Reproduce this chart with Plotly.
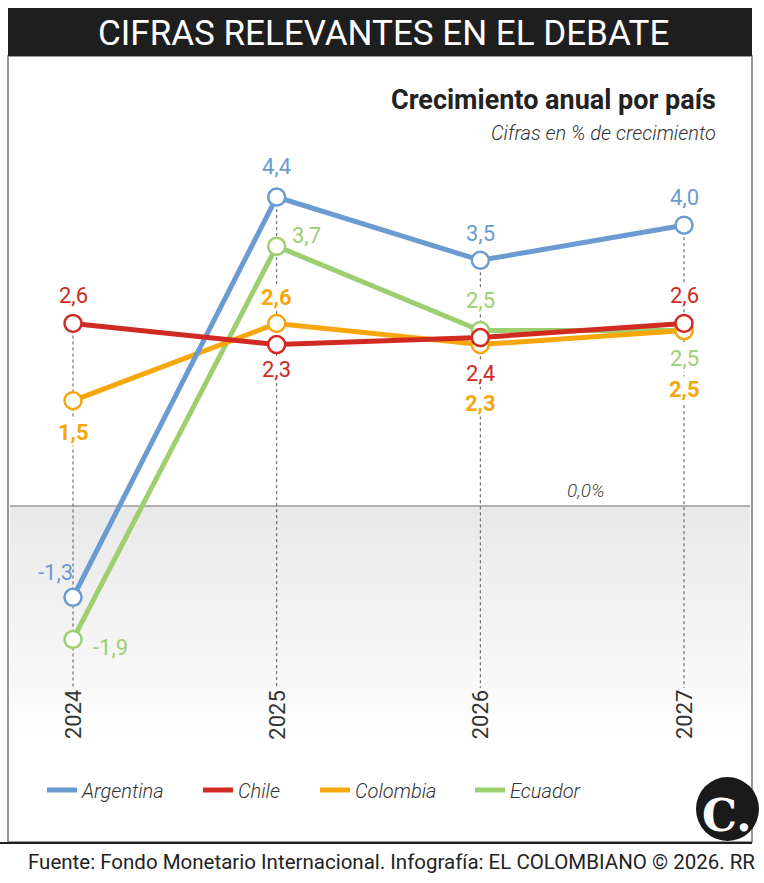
import plotly.graph_objects as go

# ---------------- data ----------------
years = [2024, 2025, 2026, 2027]
year_labels = ["2024", "2025", "2026", "2027"]
countries = ["Argentina", "Chile", "Colombia", "Ecuador"]
argentina = [-1.3, 4.4, 3.5, 4.0]
chile = [2.6, 2.3, 2.4, 2.6]
colombia = [1.5, 2.6, 2.3, 2.5]
ecuador = [-1.9, 3.7, 2.5, 2.5]

series = {"Argentina": argentina, "Chile": chile, "Colombia": colombia, "Ecuador": ecuador}

# ---------------- styles / layout ----------------
colors = {"Argentina": "#6a9bd1", "Chile": "#d12a22", "Colombia": "#f7a70c", "Ecuador": "#9dcf70"}
label_bold = {"Argentina": False, "Chile": False, "Colombia": True, "Ecuador": False}
# label offsets in pixels (dx right, dy down) relative to each point
label_offsets = {
    "Argentina": [(-18, -25), (0, -31), (0, -27), (0, -28)],
    "Chile": [(0, -28), (0, 25), (0, 36), (0, -28)],
    "Colombia": [(0, 32), (0, -26), (0, 59), (0, 59)],
    "Ecuador": [(37, 8), (30, -11), (0, -30), (0, 28)],
}
draw_order = ["Ecuador", "Colombia", "Argentina", "Chile"]
legend_px = {"Argentina": 42, "Chile": 198, "Colombia": 315, "Ecuador": 470}
legend_ids = {"Argentina": "legend", "Chile": "legend2", "Colombia": "legend3", "Ecuador": "legend4"}

W, H = 764, 883
X0PX, XSTEP = 73.0, 203.67
Y0PX, YSTEP = 506.0, 70.2
xr = [years[0] - X0PX / XSTEP, years[0] + (W - X0PX) / XSTEP]
yr = [-(H - Y0PX) / YSTEP, Y0PX / YSTEP]


def px2x(p):
    return xr[0] + p / XSTEP


def px2y(p):
    return (Y0PX - p) / YSTEP


def pxp(p):
    return p / W


def pyp(p):
    return 1 - p / H


FONT = "Roboto"
fig = go.Figure()

# gray gradient below zero
nrows = 60
y_bottom = px2y(745)
yedges = [i * y_bottom / nrows for i in range(nrows + 1)]
z = [[i / (nrows - 1)] for i in range(nrows)]
fig.add_trace(go.Heatmap(
    x=[px2x(10), px2x(750)], y=yedges, z=z,
    colorscale=[[0, "#e9e9e9"], [0.55, "#f4f4f4"], [1, "#ffffff"]],
    showscale=False, hoverinfo="skip", zmin=0, zmax=1,
))

# zero line
fig.add_trace(go.Scatter(
    x=[px2x(10), px2x(750)], y=[0, 0], mode="lines",
    line=dict(color="#9a9a9a", width=1.5), showlegend=False, hoverinfo="skip",
))

# dotted year guides
gx, gy = [], []
for i, yv in enumerate(years):
    top = max(series[c][i] for c in countries)
    gx += [yv, yv, None]
    gy += [top, px2y(688), None]
fig.add_trace(go.Scatter(
    x=gx, y=gy, mode="lines", line=dict(color="#555555", width=1, dash="dot"),
    showlegend=False, hoverinfo="skip",
))

# series lines (legend) and markers
for c in draw_order:
    fig.add_trace(go.Scatter(
        x=years, y=series[c], mode="lines", name=c,
        line=dict(color=colors[c], width=5),
        legend=legend_ids[c], showlegend=True, hoverinfo="skip",
    ))
for c in draw_order:
    fig.add_trace(go.Scatter(
        x=years, y=series[c], mode="markers", name=c,
        marker=dict(size=17, color="white", line=dict(color=colors[c], width=2.5)),
        showlegend=False, hoverinfo="skip",
    ))

annotations = []
# value labels
for c in countries:
    for i, yv in enumerate(years):
        v = series[c][i]
        dx, dy = label_offsets[c][i]
        annotations.append(dict(
            x=yv, y=v, xref="x", yref="y", text=f"{v:.1f}".replace(".", ","),
            showarrow=False, xshift=dx, yshift=-dy,
            font=dict(family=FONT, size=22, color=colors[c],
                      weight="bold" if label_bold[c] else "normal"),
            bgcolor="white" if (dx == 0 and v > 0) else None, borderpad=0,
        ))

# year labels
for yv, lab in zip(years, year_labels):
    annotations.append(dict(
        x=yv, y=px2y(715), xref="x", yref="y", text=lab, textangle=-90,
        showarrow=False, font=dict(family=FONT, size=22, color="#333333"),
    ))

# 0,0% label
annotations.append(dict(
    x=px2x(586), y=0, xref="x", yref="y", text="0,0%", showarrow=False, yshift=16,
    font=dict(family=FONT, size=19, color="#444444", style="italic", weight=300),
))

# header, title, subtitle, footer
annotations += [
    dict(x=pxp(383), y=pyp(33), xref="paper", yref="paper", text="CIFRAS RELEVANTES EN EL DEBATE",
         showarrow=False, font=dict(family=FONT, size=35, color="white"), xanchor="center", yanchor="middle"),
    dict(x=pxp(718), y=pyp(100), xref="paper", yref="paper", text="<b>Crecimiento anual por país</b>",
         showarrow=False, font=dict(family=FONT, size=27, color="#222222"), xanchor="right", yanchor="middle"),
    dict(x=pxp(718), y=pyp(133), xref="paper", yref="paper", text="Cifras en % de crecimiento",
         showarrow=False, font=dict(family=FONT, size=20, color="#333333", style="italic", weight=300),
         xanchor="right", yanchor="middle"),
    dict(x=pxp(757), y=pyp(862), xref="paper", yref="paper",
         text="Fuente: Fondo Monetario Internacional. Infografía: EL COLOMBIANO © 2026. RR",
         showarrow=False, font=dict(family=FONT, size=20.5, color="#222222"), xanchor="right", yanchor="middle"),
    dict(x=pxp(727), y=pyp(815), xref="paper", yref="paper", text="<b>C.</b>",
         showarrow=False, font=dict(family="DejaVu Serif", size=44, color="white"),
         xanchor="center", yanchor="middle"),
]

shapes = [
    dict(type="rect", xref="paper", yref="paper", x0=pxp(8), x1=pxp(752), y0=pyp(842), y1=pyp(56),
         line=dict(color="#777777", width=1.5), fillcolor="rgba(0,0,0,0)", layer="above"),
    dict(type="line", xref="paper", yref="paper", x0=pxp(0), x1=pxp(752), y0=pyp(843), y1=pyp(843),
         line=dict(color="#222222", width=2), layer="above"),
    dict(type="rect", xref="paper", yref="paper", x0=pxp(8), x1=pxp(752), y0=pyp(56), y1=pyp(8),
         line=dict(width=0), fillcolor="#1e1e1e", layer="above"),
    dict(type="circle", xref="paper", yref="paper", x0=pxp(696), x1=pxp(759), y0=pyp(841), y1=pyp(777),
         line=dict(width=0), fillcolor="#1a1a1a", layer="above"),
]

layout_legends = {}
for c in countries:
    layout_legends[legend_ids[c]] = dict(
        x=pxp(legend_px[c]), y=pyp(790), xanchor="left", yanchor="middle",
        orientation="h", bgcolor="rgba(0,0,0,0)", borderwidth=0,
        font=dict(family=FONT, size=20, color="#333333", style="italic", weight=300),
    )

fig.update_layout(
    width=W, height=H, margin=dict(l=0, r=0, t=0, b=0),
    paper_bgcolor="white", plot_bgcolor="white",
    xaxis=dict(range=xr, visible=False, fixedrange=True),
    yaxis=dict(range=yr, visible=False, fixedrange=True),
    annotations=annotations, shapes=shapes,
    **layout_legends,
)

fig.write_html("out.html", config={"displayModeBar": False})
